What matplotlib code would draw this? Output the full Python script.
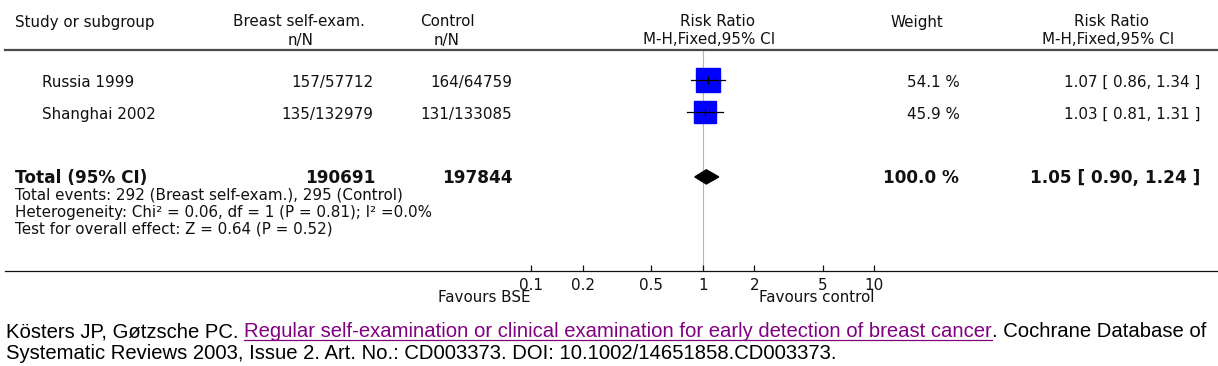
import matplotlib
matplotlib.use("Agg")
import matplotlib.pyplot as plt
import numpy as np
from matplotlib.transforms import blended_transform_factory
from matplotlib.ticker import NullLocator

# ---------------- data ----------------
studies = ["Russia 1999", "Shanghai 2002"]
bse_events = [157, 135]
bse_total = [57712, 132979]
ctl_events = [164, 131]
ctl_total = [64759, 133085]
weights = [54.1, 45.9]
rr = [1.07, 1.03]
rr_lo = [0.86, 0.81]
rr_hi = [1.34, 1.31]

total_bse = 190691
total_ctl = 197844
total_weight = 100.0
total_rr, total_lo, total_hi = 1.05, 0.90, 1.24
total_events_bse, total_events_ctl = 292, 295
het_chi2, het_df, het_p, het_i2 = 0.06, 1, 0.81, 0.0
z_val, z_p = 0.64, 0.52

ticks = [0.1, 0.2, 0.5, 1, 2, 5, 10]
tick_labels = ["0.1", "0.2", "0.5", "1", "2", "5", "10"]

# ---------------- layout ----------------
W, H, DPI = 1218, 366, 100
fig = plt.figure(figsize=(W / DPI, H / DPI), dpi=DPI)
fig.patch.set_facecolor("white")

def fx(x):
    return x / W

def fy(y):
    return 1 - y / H

FS = 10.9
FSB = 12.2
TXT = "#111111"
FONT = "DejaVu Sans"

ax_left, ax_right, ax_top, ax_bot = 5, 1218, 50, 271
ax = fig.add_axes([fx(ax_left), fy(ax_bot), fx(ax_right) - fx(ax_left), fy(ax_top) - fy(ax_bot)])
ax.set_xscale("log")
px_per_decade = 171.7
x_one = 702.7
ax.set_xlim(10 ** ((ax_left - x_one) / px_per_decade), 10 ** ((ax_right - x_one) / px_per_decade))
row0, row_px = 80.0, 32.3
ax.set_ylim((ax_bot - row0) / row_px, (ax_top - row0) / row_px)

for s in ["left", "right"]:
    ax.spines[s].set_visible(False)
ax.spines["top"].set_linewidth(1.6)
ax.spines["top"].set_color("#4a4a4a")
ax.spines["bottom"].set_linewidth(0.9)
ax.spines["bottom"].set_color("#111111")
ax.set_yticks([])
ax.set_xticks(ticks)
ax.set_xticklabels(tick_labels)
ax.xaxis.set_minor_locator(NullLocator())
ax.tick_params(axis="x", which="major", direction="in", length=4, width=0.9,
               labelsize=FS, pad=5, colors="#111111")
for lab in ax.get_xticklabels():
    lab.set_family(FONT)

# null line
ax.axvline(1, color="#b5b5b5", lw=0.8, zorder=1)

# study rows
rows = list(range(len(studies)))
wmax = max(weights)
for i in rows:
    ms = 16.9 * np.sqrt(weights[i] / wmax)
    ax.plot([rr[i]], [i], marker="s", ms=ms, color="#0000ff", mec="#0000ff", ls="none", zorder=2)
    ax.plot([rr_lo[i], rr_hi[i]], [i, i], color="black", lw=0.9, zorder=3)
    ax.plot([rr[i]], [i], marker="|", ms=6, mew=0.9, color="black", zorder=4)

# total diamond
total_row = len(studies) + 1
dh = 0.22
ax.fill([total_lo, total_rr, total_hi, total_rr],
        [total_row, total_row - dh, total_row, total_row + dh],
        color="black", zorder=3)

# favours labels
tr_fav = blended_transform_factory(ax.transData, fig.transFigure)
ax.text(0.1, fy(298), "Favours BSE", transform=tr_fav, ha="right", va="center",
        fontsize=FS, family=FONT, color=TXT)
ax.text(10, fy(298), "Favours control", transform=tr_fav, ha="right", va="center",
        fontsize=FS, family=FONT, color=TXT)

# ---------------- headers ----------------
def ftext(x, y, s, ha="left", bold=False, **kw):
    fig.text(fx(x), fy(y), s, ha=ha, va="center", fontsize=FSB if bold else FS, family=FONT,
             color=TXT, fontweight="bold" if bold else "normal", **kw)

ftext(15, 22, "Study or subgroup")
ftext(299, 22, "Breast self-exam.", ha="center")
ftext(301, 41, "n/N", ha="center")
ftext(447, 22, "Control", ha="center")
ftext(447, 41, "n/N", ha="center")
ftext(718, 22, "Risk Ratio", ha="center")
ftext(709, 40, "M-H,Fixed,95% CI", ha="center")
ftext(917, 22, "Weight", ha="center")
ftext(1112, 22, "Risk Ratio", ha="center")
ftext(1108, 40, "M-H,Fixed,95% CI", ha="center")

# ---------------- row text ----------------
tr_row = blended_transform_factory(fig.transFigure, ax.transData)

def rtext(x, row, s, ha="left", bold=False, dy=0.07):
    fig.text(fx(x), row + dy, s, transform=tr_row, ha=ha, va="center",
             fontsize=FSB if bold else FS,
             family=FONT, color=TXT, fontweight="bold" if bold else "normal")

for i in rows:
    rtext(42, i, studies[i])
    rtext(373, i, f"{bse_events[i]}/{bse_total[i]}", ha="right")
    rtext(512, i, f"{ctl_events[i]}/{ctl_total[i]}", ha="right")
    rtext(960, i, f"{weights[i]:.1f} %", ha="right")
    rtext(1200, i, f"{rr[i]:.2f} [ {rr_lo[i]:.2f}, {rr_hi[i]:.2f} ]", ha="right")

rtext(15, total_row, "Total (95% CI)", bold=True, dy=0.03)
rtext(375, total_row, f"{total_bse}", ha="right", bold=True, dy=0.03)
rtext(513, total_row, f"{total_ctl}", ha="right", bold=True, dy=0.03)
rtext(959, total_row, f"{total_weight:.1f} %", ha="right", bold=True, dy=0.03)
rtext(1200, total_row, f"{total_rr:.2f} [ {total_lo:.2f}, {total_hi:.2f} ]", ha="right", bold=True, dy=0.03)

ftext(15, 195.5, f"Total events: {total_events_bse} (Breast self-exam.), {total_events_ctl} (Control)")
ftext(15, 212.5, f"Heterogeneity: Chi\u00b2 = {het_chi2:.2f}, df = {het_df} (P = {het_p:.2f}); I\u00b2 ={het_i2:.1f}%")
ftext(15, 229.5, f"Test for overall effect: Z = {z_val:.2f} (P = {z_p:.2f})")

# ---------------- citation ----------------
CFONT = "Liberation Sans"
line1 = [("K\u00f6sters JP, G\u00f8tzsche PC. ", "black", False),
         ("Regular self-examination or clinical examination for early detection of breast cancer", "#800080", True),
         (". Cochrane Database of", "black", False)]
line2 = "Systematic Reviews 2003, Issue 2. Art. No.: CD003373. DOI: 10.1002/14651858.CD003373."

fig.canvas.draw()
renderer = fig.canvas.get_renderer()

def width_of(s, size):
    t = fig.text(0, 0, s, fontsize=size, family=CFONT)
    w = t.get_window_extent(renderer=renderer).width
    t.remove()
    return w

def seg_width(s, size):
    core = width_of("|" + s + "|", size)
    bar = width_of("||", size)
    return core - bar

base = 12.0
total_w = sum(seg_width(s, base) for s, _, _ in line1)
CF = base * (1204 / total_w)

x = 6
base1 = 337
for s, col, und in line1:
    fig.text(fx(x), fy(base1), s, fontsize=CF, family=CFONT, color=col, ha="left", va="baseline")
    w = seg_width(s, CF)
    if und:
        fig.add_artist(plt.Line2D([fx(x), fx(x + w)], [fy(base1 + 2.5), fy(base1 + 2.5)],
                                  color=col, lw=0.9, transform=fig.transFigure))
    x += w
fig.text(fx(6), fy(359), line2, fontsize=CF, family=CFONT, color="black", ha="left", va="baseline")

fig.savefig("out.png", dpi=DPI, facecolor="white")
